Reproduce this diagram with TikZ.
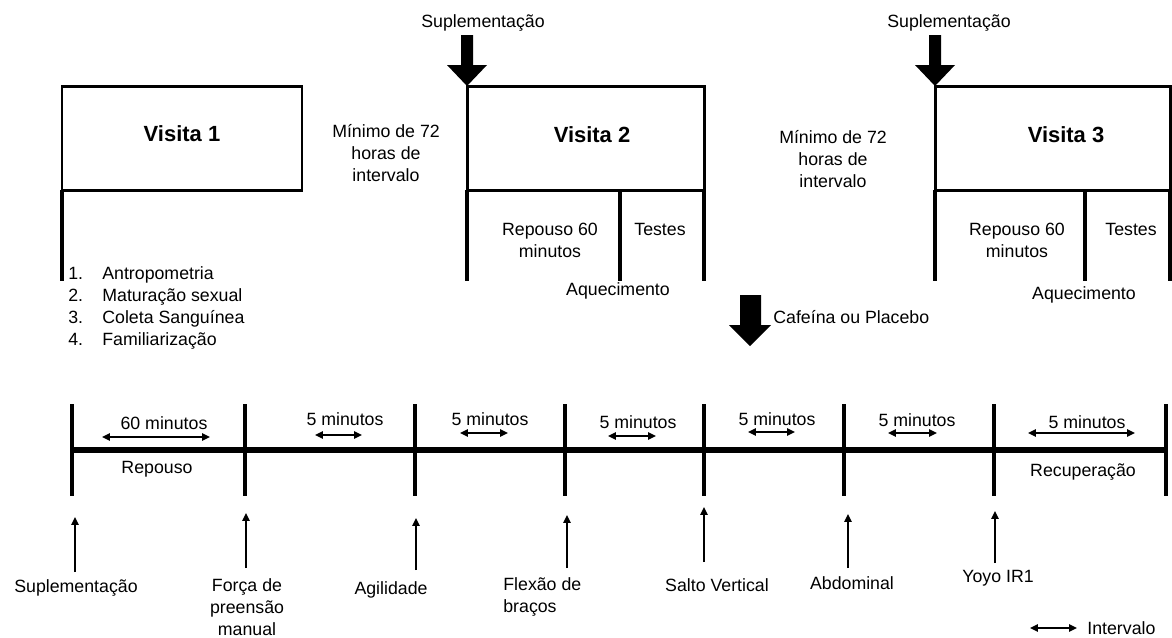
\documentclass[tikz,border=0pt]{standalone}
\usepackage{fontspec}
\setmainfont{Liberation Sans}
\usetikzlibrary{arrows.meta}

\begin{document}
\begin{tikzpicture}[x=0.02cm, y=0.02cm]
\tikzstyle{every node}+=[inner sep=0pt, font=\fontsize{10.1}{12.6}\selectfont]
\tikzstyle{frame}=[black, line width=1.7pt]
\tikzstyle{stem}=[black, line width=2.8pt]
\tikzstyle{gap}=[black, line width=0.9pt, {Triangle[length=4.5pt,width=4.2pt]}-{Triangle[length=4.5pt,width=4.2pt]}]
\tikzstyle{uparrow}=[black, line width=0.9pt, -{Triangle[length=4.5pt,width=4.2pt]}]
\tikzstyle{visit}=[font=\fontsize{12.5}{15}\selectfont\bfseries]
\useasboundingbox (0,0) rectangle (1172,-637);
% visita 1
\draw [frame] (62,-86) rectangle (302,-190);
\draw [stem] (62,-190) -- (62,-281);
\node [visit] (v1) at (182,-134) {Visita 1};
\foreach \t [count=\k] in {Antropometria, Maturação sexual, Coleta Sanguínea, Familiarização} {
  \node [anchor=base west] (num\k) at (68,-279-22*\k+22) {\k.};
  \node [anchor=base west] (item\k) at (102,-279-22*\k+22) {\t};
}
\node [align=center] (min1) at (386,-153) {Mínimo de 72\\horas de\\intervalo};
% visita 2
\draw [frame] (467,-86) rectangle (704,-190);
\draw [stem] (467,-190) -- (467,-281);
\draw [stem] (620,-190) -- (620,-281);
\draw [stem] (704,-190) -- (704,-281);
\node [visit] (v2) at (592,-135) {Visita 2};
\node (supl2) at (483,-23) {Suplementação};
\fill [black] (461,-35) -- (473,-35) -- (473,-65) -- (487,-65) -- (467,-86) -- (447,-65) -- (461,-65) -- cycle;
\node [align=center] (rep2) at (550,-240) {Repouso 60\\minutos};
\node (test2) at (660,-229) {Testes};
\node (aq2) at (618,-291) {Aquecimento};
\node [align=center] (min2) at (833,-159) {Mínimo de 72\\horas de\\intervalo};
% visita 3
\draw [frame] (935,-86) -- (1170,-86) -- (1170,-190) -- (935,-190) -- cycle;
\draw [stem] (935,-190) -- (935,-281);
\draw [stem] (1085,-190) -- (1085,-281);
\draw [stem] (1170,-190) -- (1170,-281);
\node [visit] (v3) at (1066,-135) {Visita 3};
\node (supl3) at (949,-23) {Suplementação};
\fill [black] (929,-35) -- (941,-35) -- (941,-65) -- (955,-65) -- (935,-86) -- (915,-65) -- (929,-65) -- cycle;
\node [align=center] (rep3) at (1017,-240) {Repouso 60\\minutos};
\node (test3) at (1131,-229) {Testes};
\node (aq3) at (1084,-295) {Aquecimento};
% cafeina
\fill [black] (740,-295) -- (761,-295) -- (761,-325) -- (771,-325) -- (750,-346) -- (729,-325) -- (740,-325) -- cycle;
\node [anchor=west] (caf) at (773,-317) {Cafeína ou Placebo};
% timeline
\foreach \x [count=\k] in {72,245,415,565,704,844,994,1166} {
  \coordinate (t\k) at (\x,-450);
  \draw [stem] (\x,-404) -- (\x,-496);
}
\draw [black, line width=3.3pt] (t1) -- (t8);
\foreach \lx/\ly/\a/\b/\ay/\t in {164/423/102/210/437/60 minutos, 345/419/315/362/435/5 minutos,
    490/419/460/508/433/5 minutos, 638/422/608/656/436/5 minutos, 777/419/748/795/432/5 minutos,
    917/420/888/937/433/5 minutos, 1087/422/1028/1135/433/5 minutos} {
  \node at (\lx,-\ly) {\t};
  \draw [gap] (\a,-\ay) -- (\b,-\ay);
}
\node (repouso) at (157,-469) {Repouso};
\node (recup) at (1083,-472) {Recuperação};
% testes
\foreach \x/\b/\e in {75/572/517, 246/568/513, 416/570/518, 567/568/515, 704/562/507, 848/568/514, 995/563/511} {
  \draw [uparrow] (\x,-\b) -- (\x,-\e);
}
\node (s1) at (76,-588) {Suplementação};
\node [align=center] (s2) at (247,-607) {Força de\\preensão\\manual};
\node (s3) at (391,-590) {Agilidade};
\node [align=left, anchor=west] (s4) at (503,-597) {Flexão de\\braços};
\node (s5) at (717,-585) {Salto Vertical};
\node (s6) at (852,-583) {Abdominal};
\node (s7) at (998,-578) {Yoyo IR1};
% legenda
\coordinate (la) at (1030,-628);
\coordinate (lb) at (1077,-628);
\draw [gap] (la) -- (lb);
\node [anchor=west] (leg) at (1087,-628) {Intervalo};
\end{tikzpicture}
\end{document}
